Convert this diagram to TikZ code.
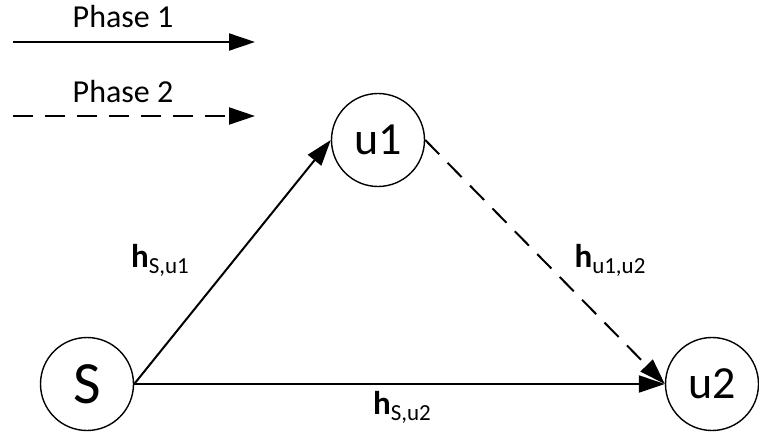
\documentclass[tikz,border=0pt]{standalone}
\usepackage{fontspec}
\setmainfont{Carlito}
\usetikzlibrary{arrows.meta}

\tikzset{
	user/.style={draw, circle, line width=1.4pt, minimum size=93pt, inner sep=0pt, font=\fontsize{46}{50}\selectfont},
	link/.style={line width=2pt, -{Triangle[length=26pt,width=17pt]}},
	linkdash/.style={link, dash pattern=on 20pt off 12pt},
	chan/.style={font=\fontsize{33}{36}\selectfont, inner sep=0pt},
	legendtxt/.style={font=\fontsize{32}{34}\selectfont, inner sep=0pt}
}
\newcommand{\chanlabel}[1]{\textbf{h}{\fontsize{23}{25}\selectfont\raisebox{-6pt}{#1}}}

\begin{document}
\begin{tikzpicture}[x=1pt,y=1pt]
		\useasboundingbox (0,0) rectangle (759,437);
		
		% =========================
		% Legend
		% =========================
		\node[legendtxt] (p1) at (123,420) {Phase 1};
		\coordinate (p1a) at (13,395);
		\coordinate (p1b) at (255,395);
		\draw[link] (p1a) -- (p1b);
		
		\node[legendtxt] (p2) at (123,345) {Phase 2};
		\coordinate (p2a) at (13,321);
		\coordinate (p2b) at (255,321);
		\draw[linkdash] (p2a) -- (p2b);
		
		% =========================
		% Nodes
		% =========================
		\node[user, font=\fontsize{60}{62}\selectfont] (S) at (87,53) {S};
		\node[user] (u1) at (378,297) {u1};
		\node[user] (u2) at (712,53) {u2};
		
		% links
		\draw[link] (S.east) -- (u1.west);
		\draw[link] (S.east) -- (u2.west);
		\draw[linkdash] (u1.east) -- (u2.west);
		
		% channel labels
		\node[chan] (hsu1) at (160,177) {\chanlabel{S,u1}};
		\node[chan] (hu1u2) at (610,177) {\chanlabel{u1,u2}};
		\node[chan] (hsu2) at (402,30) {\chanlabel{S,u2}};
		
	\end{tikzpicture}
\end{document}
